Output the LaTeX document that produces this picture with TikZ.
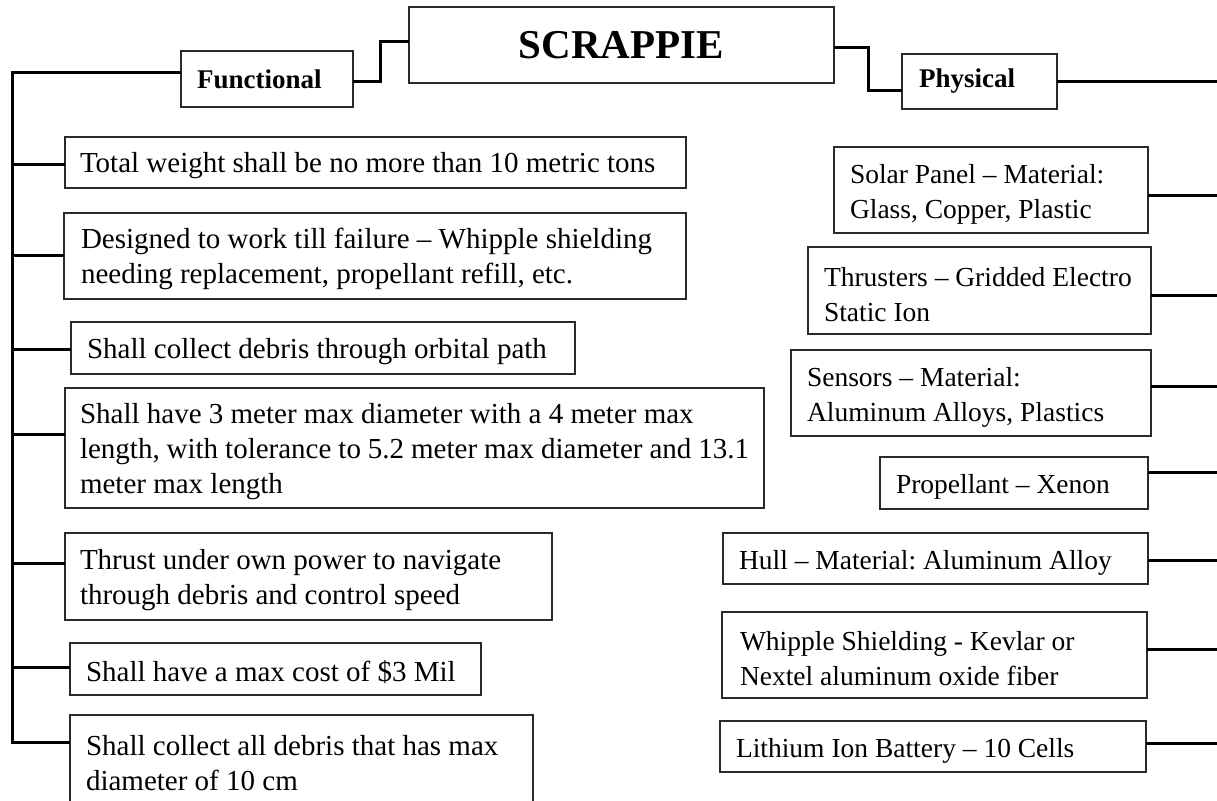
\documentclass[tikz,border=0pt]{standalone}
\usepackage{fontspec}
\setmainfont{Liberation Serif}
\definecolor{boxgray}{HTML}{2A2A2A}
\newcommand\bodyfont{\fontsize{27.5}{35}\selectfont\frenchspacing}
\newcommand\leftfont{\fontsize{29}{35}\selectfont\frenchspacing}
\newcommand\titlefont{\fontsize{41}{48}\selectfont\bfseries}
\begin{document}
\begin{tikzpicture}[x=1pt,y=-1pt,
  frame/.style={draw=boxgray, line width=1.5pt, rectangle, anchor=north west,
    align=flush left, inner xsep=16pt, inner ysep=0pt, outer sep=0pt, font=\bodyfont},
  box/.style={frame, execute at begin node={\rule{0pt}{27pt}}},
  lbox/.style={box, font=\leftfont},
  wire/.style={line width=3pt, black, line join=miter}]
\useasboundingbox (0,0) rectangle (1217,800);

% top nodes
\node[frame, align=center, minimum width=425pt, minimum height=76pt, inner xsep=0pt, font=\titlefont] (S) at (409,7) {SCRAPPIE};
\node[frame, minimum height=56pt, text width=140pt, font=\fontsize{27}{35}\selectfont\bfseries] (F) at (181,51) {Functional};
\node[frame, minimum height=55pt, text width=121pt, inner xsep=17pt, font=\fontsize{27}{35}\selectfont\bfseries] (P) at (902,54) {Physical};

% left column
\node[lbox, minimum height=51pt, text width=591pt, inner xsep=15pt] (L1) at (65,137) {Total weight shall be no more than 10 metric tons};
\node[lbox, minimum height=86pt, text width=588pt, inner xsep=17pt] (L2) at (64,213) {Designed to work till failure -- Whipple shielding\\needing replacement, propellant refill, etc.};
\node[lbox, minimum height=52pt, text width=472pt] (L3) at (71,322) {Shall collect debris through orbital path};
\node[lbox, minimum height=120pt, text width=669pt, inner xsep=15pt] (L4) at (65,388) {Shall have 3 meter max diameter with a 4 meter max\\length, with tolerance to 5.2 meter max diameter and 13.1\\meter max length};
\node[lbox, minimum height=87pt, text width=457pt, inner xsep=15pt] (L5) at (65,533) {Thrust under own power to navigate\\through debris and control speed};
\node[lbox, minimum height=52pt, text width=379pt] (L6) at (70,643) {Shall have a max cost of \$3 Mil};
\node[lbox, minimum height=90pt, text width=431pt] (L7) at (70,715) {Shall collect all debris that has max\\diameter of 10 cm};

% right column
\node[box, minimum height=86pt, text width=282pt] (R1) at (834,147) {Solar Panel -- Material:\\Glass, Copper, Plastic};
\node[box, minimum height=87pt, text width=311pt] (R2) at (808,247) {Thrusters -- Gridded Electro\\Static Ion};
\node[box, minimum height=86pt, text width=328pt] (R3) at (791,350) {Sensors -- Material:\\Aluminum Alloys, Plastics};
\node[box, minimum height=52pt, text width=236pt] (R4) at (880,457) {Propellant -- Xenon};
\node[box, minimum height=51pt, text width=393pt] (R5) at (723,533) {Hull -- Material: Aluminum Alloy};
\node[box, minimum height=86pt, text width=389pt, inner xsep=18pt] (R6) at (722,612) {Whipple Shielding - Kevlar or\\Nextel aluminum oxide fiber};
\node[box, minimum height=51pt, text width=394pt] (R7) at (720,721) {Lithium Ion Battery -- 10 Cells};

% connector coordinates
\coordinate (fs1) at (380,81);
\coordinate (fs2) at (380,42);
\coordinate (sp1) at (868,48);
\coordinate (sp2) at (868,90);
\coordinate (pe) at (1222,81);
\coordinate (tt) at (12,72);
\coordinate (c1) at (12,164);
\coordinate (c2) at (12,255);
\coordinate (c3) at (12,349);
\coordinate (c4) at (12,434);
\coordinate (c5) at (12,563);
\coordinate (c6) at (12,667);
\coordinate (c7) at (12,742);
\coordinate (r1) at (1222,195);
\coordinate (r2) at (1222,295);
\coordinate (r3) at (1222,386);
\coordinate (r4) at (1222,472);
\coordinate (r5) at (1222,560);
\coordinate (r6) at (1222,649);
\coordinate (r7) at (1222,743);

% top connectors
\draw[wire] (F.east |- fs1) -- (fs1) -- (fs2) -- (S.west |- fs2);
\draw[wire] (S.east |- sp1) -- (sp1) -- (sp2) -- (P.west |- sp2);
\draw[wire] (P.east |- pe) -- (pe);

% left trunk
\draw[wire] (F.west |- tt) -- (tt) -- (c7) -- (L7.west |- c7);
\foreach \i in {1,...,6} \draw[wire] (c\i) -- (L\i.west |- c\i);

% right branches
\foreach \i in {1,...,7} \draw[wire] (R\i.east |- r\i) -- (r\i);
\end{tikzpicture}
\end{document}
